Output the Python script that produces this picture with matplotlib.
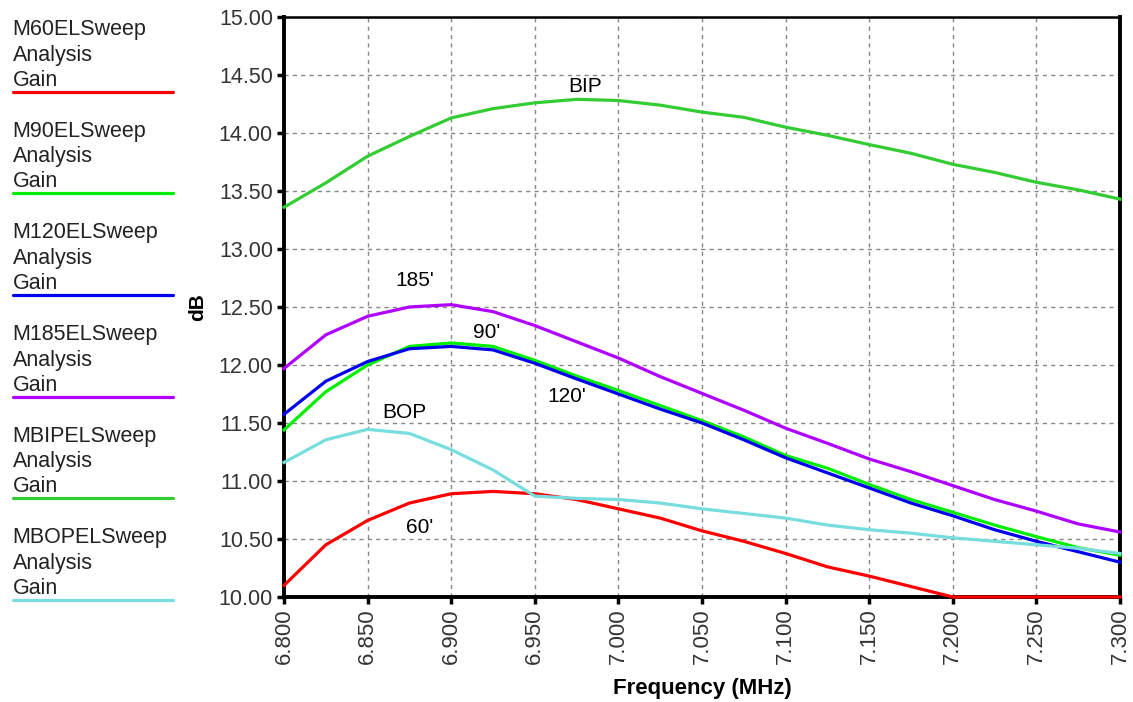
import numpy as np
import matplotlib
matplotlib.use("Agg")
import matplotlib.pyplot as plt

plt.rcParams['font.family'] = ['Liberation Sans', 'DejaVu Sans']

# Frequency sweep (MHz)
freq = [6.800, 6.825, 6.850, 6.875, 6.900, 6.925, 6.950, 6.975, 7.000, 7.025,
        7.050, 7.075, 7.100, 7.125, 7.150, 7.175, 7.200, 7.225, 7.250, 7.275, 7.300]

gain_60 = [10.10, 10.45, 10.66, 10.81, 10.89, 10.91, 10.89, 10.84, 10.76, 10.68,
           10.57, 10.48, 10.375, 10.26, 10.18, 10.09, 10.00, 10.00, 10.00, 10.00, 10.00]
gain_90 = [11.44, 11.77, 12.00, 12.16, 12.19, 12.16, 12.04, 11.905, 11.78, 11.65,
           11.52, 11.38, 11.22, 11.11, 10.97, 10.84, 10.73, 10.62, 10.52, 10.425, 10.36]
gain_120 = [11.575, 11.86, 12.03, 12.14, 12.16, 12.13, 12.015, 11.88, 11.75, 11.62,
            11.50, 11.355, 11.20, 11.07, 10.94, 10.81, 10.70, 10.58, 10.48, 10.39, 10.30]
gain_185 = [11.97, 12.26, 12.42, 12.50, 12.52, 12.46, 12.34, 12.20, 12.06, 11.90,
            11.755, 11.61, 11.455, 11.325, 11.19, 11.08, 10.96, 10.84, 10.74, 10.63, 10.56]
gain_bip = [13.36, 13.57, 13.80, 13.97, 14.13, 14.21, 14.26, 14.29, 14.28, 14.24,
            14.18, 14.135, 14.05, 13.98, 13.90, 13.825, 13.73, 13.66, 13.575, 13.51, 13.43]
gain_bop = [11.16, 11.355, 11.445, 11.41, 11.27, 11.095, 10.87, 10.85, 10.84, 10.81,
            10.76, 10.72, 10.68, 10.62, 10.58, 10.55, 10.51, 10.48, 10.45, 10.42, 10.375]

series_names = ['M60ELSweep', 'M90ELSweep', 'M120ELSweep',
                'M185ELSweep', 'MBIPELSweep', 'MBOPELSweep']
series_data = [gain_60, gain_90, gain_120, gain_185, gain_bip, gain_bop]
colors = ['#ff0000', '#00ee00', '#0000ee', '#b000ff', '#33cc33', '#77dddd']

# curve annotations: text, freq, gain
notes = [("BIP", 6.980, 14.40), ("185'", 6.878, 12.73), ("90'", 6.921, 12.28),
         ("120'", 6.969, 11.73), ("BOP", 6.872, 11.59), ("60'", 6.881, 10.60)]

fig = plt.figure(figsize=(11.33, 7.02), dpi=100)
ax = fig.add_axes([0.2507, 0.1496, 0.7378, 0.8262])

for name, data, c in zip(series_names, series_data, colors):
    ax.plot(freq, data, color=c, lw=2.3, label=name, clip_on=False, zorder=3)

for txt, fx, fy in notes:
    ax.text(fx, fy, txt, ha='center', va='center', fontsize=15, color='black')

ax.set_xlim(6.8, 7.3)
ax.set_ylim(10.0, 15.0)
xt = np.arange(6.8, 7.3001, 0.05)
yt = np.arange(10.0, 15.001, 0.5)
ax.set_xticks(xt)
ax.set_yticks(yt)
ax.set_xticklabels([f"{v:.3f}" for v in xt], rotation=90, fontsize=16, color='#333333')
ax.set_yticklabels([f"{v:.2f}" for v in yt], fontsize=15.5, color='#333333')
ax.tick_params(axis='both', direction='out', length=5, width=2.5, color='black', pad=3)
ax.grid(True, color='#888888', linestyle=(0, (3, 3)), linewidth=1)
for s in ['left', 'bottom', 'right']:
    ax.spines[s].set_linewidth(2.8)
ax.spines['top'].set_linewidth(1.8)

ax.set_xlabel('Frequency (MHz)', fontsize=16, fontweight='bold', labelpad=10)
ax.set_ylabel('dB', fontsize=15, fontweight='bold', labelpad=8)

# legend column on the left
lax = fig.add_axes([0, 0, 0.16, 1])
lax.set_xlim(0, 1)
lax.set_ylim(702, 0)
lax.axis('off')
for i, (name, c) in enumerate(zip(series_names, colors)):
    base = 91.5 + i * 101.7
    lax.text(0.07, base - 62, name, fontsize=15.5, color='#222222', va='center')
    lax.text(0.07, base - 36.5, 'Analysis', fontsize=15.5, color='#222222', va='center')
    lax.text(0.07, base - 11.5, 'Gain', fontsize=15.5, color='#222222', va='center')
    lax.plot([0.07, 0.955], [base, base], color=c, lw=2.3, solid_capstyle='round')

fig.savefig('out.png', dpi=100)
